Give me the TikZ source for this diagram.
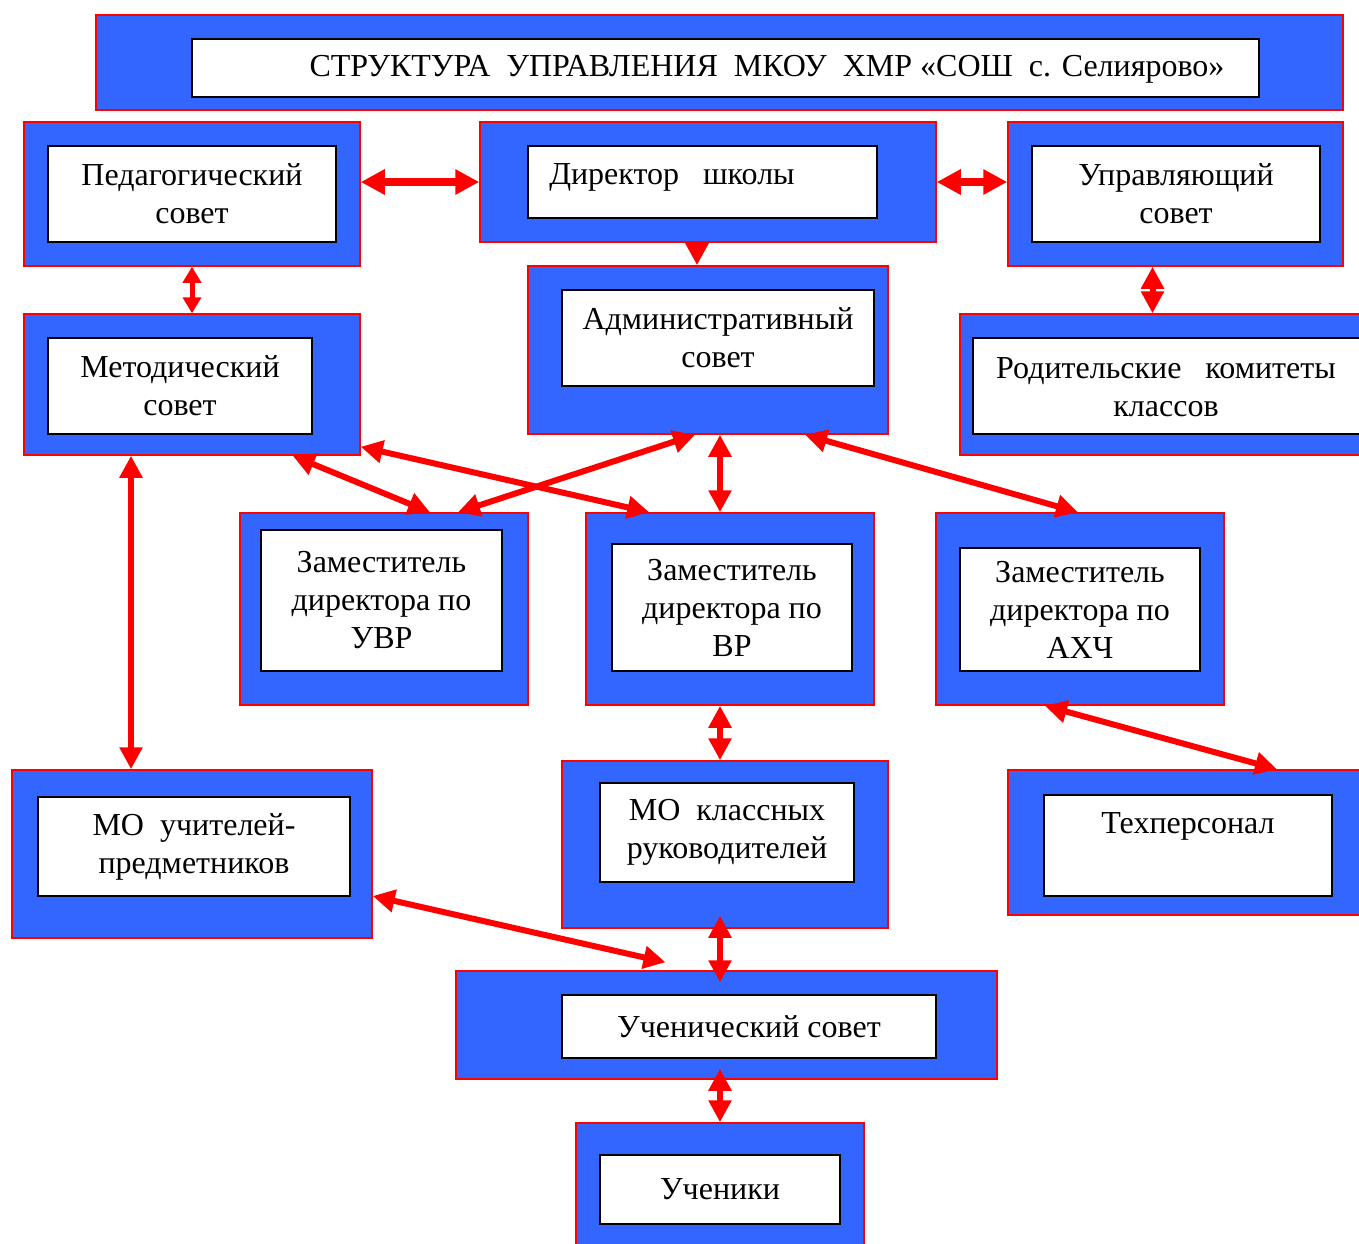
\documentclass[tikz,border=0pt]{standalone}
\usepackage{fontspec}
\setmainfont{Liberation Serif}
\usetikzlibrary{arrows.meta}
\definecolor{bleu}{RGB}{51,102,255}

\tikzstyle{cadre} = [rectangle, draw=red, line width=1.5pt, fill=bleu, inner sep=0pt]
\tikzstyle{boite} = [rectangle, draw=black, line width=2pt, fill=white, align=center, inner sep=0pt, font=\fontsize{32}{38}\selectfont]
\tikzstyle{texte} = [inner sep=0pt, align=center, font=\fontsize{32}{38}\selectfont]
\tikzstyle{fleche} = [draw=red, line width=6pt, >={Triangle[length=22pt,width=22pt]}, <->]
\tikzstyle{flechelarge} = [draw=red, line width=8pt, >={Triangle[length=24pt,width=24pt]}, <->]
\tikzstyle{flechecourte} = [draw=red, line width=5pt, >={Triangle[length=16pt,width=18pt]}, <->]

\begin{document}
\begin{tikzpicture}[x=1pt, y=-1pt]

    \clip (0,0) rectangle (1359,1243);

    %  titre
    \node [cadre, minimum width=1247, minimum height=95] (titreO) at (719.5,62.5) {};
    \node [boite, minimum width=1067, minimum height=58] (titreI) at (725.5,68) {};
    \node [texte] (titreT) at (767,69) {СТРУКТУРА\ \ УПРАВЛЕНИЯ\ \ МКОУ\ \ ХМР «СОШ\ \ с. Селиярово»};

    %-------------------------------------------------------------
    \node [cadre, minimum width=336, minimum height=144] (pedO) at (192,194) {};
    \node [boite, minimum width=288, minimum height=96] (pedI) at (192,194) {Педагогический\\совет};

    \node [cadre, minimum width=456, minimum height=120] (dirO) at (708,182) {};
    \node [boite, minimum width=349, minimum height=72] (dirI) at (702.5,182) {};
    \node [texte] (dirT) at (672,177) {Директор\ \ \ школы};

    \node [cadre, minimum width=335, minimum height=144] (uprO) at (1175.5,194) {};
    \node [boite, minimum width=288, minimum height=96] (uprI) at (1176,194) {Управляющий\\совет};

    %-------------------------------------------------------------
    \node [cadre, minimum width=360, minimum height=168] (admO) at (708,350) {};
    \node [boite, minimum width=312, minimum height=96] (admI) at (718,338) {Административный\\совет};

    \node [cadre, minimum width=336, minimum height=141] (metO) at (192,384.5) {};
    \node [boite, minimum width=264, minimum height=96] (metI) at (180,386) {Методический\\совет};

    \node [cadre, minimum width=420, minimum height=141] (rodO) at (1170,384.5) {};
    \node [boite, minimum width=397, minimum height=96] (rodI) at (1171.5,386) {};
    \node [texte] (rodT) at (1166,387) {Родительские\ \ \ комитеты\\классов};

    %-------------------------------------------------------------
    \node [cadre, minimum width=288, minimum height=192] (uvrO) at (384,609) {};
    \node [boite, minimum width=241, minimum height=141] (uvrI) at (381.5,600.5) {Заместитель\\директора по\\УВР};

    \node [cadre, minimum width=288, minimum height=192] (vrO) at (730,609) {};
    \node [boite, minimum width=240, minimum height=127] (vrI) at (732,607.5) {Заместитель\\директора по\\ВР};

    \node [cadre, minimum width=288, minimum height=192] (ahchO) at (1080,609) {};
    \node [boite, minimum width=240, minimum height=123] (ahchI) at (1080,609.5) {Заместитель\\директора по\\АХЧ};

    %-------------------------------------------------------------
    \node [cadre, minimum width=360, minimum height=168] (mouO) at (192,854) {};
    \node [boite, minimum width=312, minimum height=99] (mouI) at (194,846.5) {МО\ \ учителей-\\предметников};

    \node [cadre, minimum width=326, minimum height=167] (mokO) at (725,844.5) {};
    \node [boite, minimum width=254, minimum height=99] (mokI) at (727,832.5) {МО\ \ классных\\руководителей};

    \node [cadre, minimum width=372, minimum height=145] (tehO) at (1194,842.5) {};
    \node [boite, minimum width=288, minimum height=101] (tehI) at (1188,845.5) {};
    \node [texte] (tehT) at (1188,826) {Техперсонал};

    %-------------------------------------------------------------
    \node [cadre, minimum width=541, minimum height=108] (uchsO) at (726.5,1025) {};
    \node [boite, minimum width=374, minimum height=63] (uchsI) at (749,1026.5) {Ученический совет};

    \node [cadre, minimum width=288, minimum height=137] (uchO) at (720,1191.5) {};
    \node [boite, minimum width=240, minimum height=69] (uchI) at (720,1189.5) {Ученики};

    %  fleches
    \draw [flechelarge] (pedO.east |- dirO.west) -- (dirO.west);
    \draw [flechelarge] (dirO.east) -- (uprO.west |- dirO.east);
    \draw [flechecourte] (pedO.south) -- (metO.north);
    \draw [fleche] ([xshift=-23pt]uprO.south) -- ([xshift=-23pt]uprO.south |- rodO.north);
    \draw [draw=red, line width=6pt, -{Triangle[length=24pt,width=24pt]}] ([xshift=-11pt]dirO.south) -- ([xshift=-11pt]dirO.south |- admO.north);
    \draw [fleche] ([xshift=12pt]admO.south) -- ([xshift=12pt]admO.south |- vrO.north);
    \draw [fleche] ([xshift=-68pt]metO.south east) -- ([xshift=46pt]uvrO.north);
    \draw [fleche] ([yshift=9pt]metO.south east) -- ([xshift=64pt]vrO.north west);
    \draw [fleche] ([xshift=-13pt]admO.south) -- ([xshift=74pt]uvrO.north);
    \draw [fleche] ([xshift=97pt]admO.south) -- ([xshift=-2pt]ahchO.north);
    \draw [fleche] ([xshift=-61pt]metO.south) -- ([xshift=-61pt]metO.south |- mouO.north);
    \draw [fleche] ([xshift=-10pt]vrO.south) -- ([xshift=-10pt]vrO.south |- mokO.north);
    \draw [fleche] ([xshift=-35pt]ahchO.south) -- ([xshift=83pt]tehO.north);
    \draw [fleche] ([yshift=-42pt]mouO.east) -- ([xshift=-61pt,yshift=8pt]uchsO.north);
    \draw [fleche] ([xshift=-5pt,yshift=13pt]mokO.south) -- ([xshift=-6.5pt,yshift=-12pt]uchsO.north);
    \draw [fleche] ([xshift=-6.5pt,yshift=11pt]uchsO.south) -- (uchO.north);

\end{tikzpicture}
\end{document}
